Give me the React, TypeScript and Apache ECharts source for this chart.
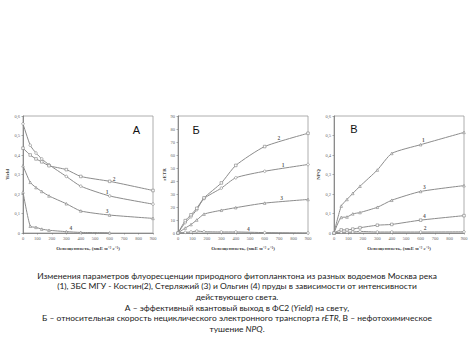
import React, { useEffect, useRef } from "react";
import * as echarts from "echarts";

const lightX = [0, 50, 90, 130, 180, 300, 400, 600, 900];

// Panel А – Yield
const yield1 = [0.56, 0.45, 0.41, 0.38, 0.35, 0.29, 0.24, 0.19, 0.148];
const yield2 = [0.435, 0.4, 0.38, 0.365, 0.345, 0.325, 0.29, 0.265, 0.218];
const yield3 = [0.345, 0.26, 0.233, 0.213, 0.19, 0.15, 0.113, 0.092, 0.075];
const yield4 = [0.21, 0.035, 0.029, 0.02, 0.014, 0.007, 0.003, 0.001];

// Panel Б – rETR
const etr1 = [0, 8, 12.5, 18, 26.5, 34.5, 42.5, 47.5, 52.7];
const etr2 = [0, 9.5, 14, 19, 27, 38.5, 52, 66.5, 76.7];
const etr3 = [0, 3.8, 6.5, 10, 14.5, 17.5, 19.5, 23, 25.8];
const etr4 = [0, 0.5, 0.8, 1.5, 1, 0.8, 0.8, 0.3, 0];

// Panel В – NPQ
const npq1 = [0, 0.138, 0.172, 0.203, 0.24, 0.323, 0.408, 0.453, 0.516];
const npq2 = [0, 0.004, 0.004, 0.005, 0.008, 0.005, 0.005, 0.005, 0.006];
const npq3 = [0, 0.08, 0.082, 0.098, 0.105, 0.132, 0.168, 0.213, 0.243];
const npq4 = [0, 0.016, 0.016, 0.02, 0.027, 0.04, 0.044, 0.066, 0.089];

// Curve number labels (name, x, y)
const curveNames = ["1", "2", "3", "4"];
const labelXA = [582, 630, 582, 332];
const labelYA = [0.21, 0.277, 0.113, 0.026];
const labelXB = [728, 698, 717, 487];
const labelYB = [52.2, 73.3, 27.3, 3.3];
const labelXC = [618, 630, 625, 625];
const labelYC = [0.475, 0.024, 0.234, 0.087];

const yMaxA = 0.6, yStepA = 0.1;
const yMaxB = 90, yStepB = 10;
const yMaxC = 0.6, yStepC = 0.1;
const xMax = 900, xStep = 100;

const panelLetters = ["А", "Б", "В"];
const yNames = ["Yield", "rETR", "NPQ"];
const xName = "Освещенность, (мкЕ м⁻² с⁻¹)";

const captionLines = [
  "Изменения параметров флуоресценции природного фитопланктона из разных водоемов Москва река",
  "(1), ЗБС МГУ - Костин(2), Стерляжий (3) и Ольгин (4) пруды в зависимости от интенсивности",
  "действующего света.",
  "А – эффективный квантовый выход в ФС2 ({i|Yield}) на свету,",
  "Б – относительная скорость нециклического электронного транспорта {i|rETR}, В – нефотохимическое",
  "тушение {i|NPQ}.",
];

const GRAY = "#8c8c8c";
const AXIS = "#777";

export default function App() {
  const ref = useRef<HTMLDivElement>(null);
  useEffect(() => {
    if (!ref.current) return;
    const chart = echarts.init(ref.current, null, { renderer: "svg" });
    const comma = (v: number) => String(Math.round(v * 100) / 100).replace(".", ",");
    const grids = [
      { left: 23, top: 116, width: 130, height: 117 },
      { left: 178, top: 116, width: 130, height: 117 },
      { left: 334, top: 116, width: 130, height: 117 },
    ];
    const yCfg = [
      [yMaxA, yStepA],
      [yMaxB, yStepB],
      [yMaxC, yStepC],
    ];
    const tickFont = { fontSize: 4.5, color: "#666", fontFamily: "Liberation Serif" };
    const xAxis = grids.map((_, i) => ({
      gridIndex: i,
      type: "value",
      min: 0,
      max: xMax,
      interval: xStep,
      name: xName,
      nameLocation: "middle",
      nameGap: 13,
      nameTextStyle: { fontSize: 5, fontWeight: "bold", fontFamily: "Liberation Serif", color: "#444" },
      axisLine: { lineStyle: { color: AXIS, width: 0.8 } },
      axisTick: { show: true, length: 1.5, lineStyle: { color: AXIS, width: 0.6 } },
      axisLabel: { ...tickFont, margin: 3 },
      splitLine: { show: false },
    }));
    const yAxis = grids.map((_, i) => ({
      gridIndex: i,
      type: "value",
      min: 0,
      max: yCfg[i][0],
      interval: yCfg[i][1],
      name: yNames[i],
      nameLocation: "middle",
      nameGap: 11,
      nameRotate: 90,
      nameTextStyle: { fontSize: 5, fontWeight: "bold", fontFamily: "Liberation Serif", color: "#444" },
      axisLine: { show: true, lineStyle: { color: AXIS, width: 0.8 } },
      axisTick: { show: true, length: 1.5, lineStyle: { color: AXIS, width: 0.6 } },
      axisLabel: { ...tickFont, margin: 3, formatter: i === 1 ? (v: number) => String(v) : comma },
      splitLine: { show: false },
    }));
    const pair = (ys: number[]) => ys.map((y, k) => [lightX[k], y]);
    const lineSeries = (ys: number[], gi: number, symbol: string) => ({
      type: "line",
      xAxisIndex: gi,
      yAxisIndex: gi,
      data: pair(ys),
      symbol,
      symbolSize: 2.6,
      showAllSymbol: true,
      smooth: 0.2,
      lineStyle: { color: GRAY, width: 1 },
      itemStyle: { color: "#fff", borderColor: "#808080", borderWidth: 0.6 },
      z: 3,
    });
    const labelSeries = (xs: number[], ys: number[], gi: number) => ({
      type: "scatter",
      xAxisIndex: gi,
      yAxisIndex: gi,
      symbolSize: 0,
      data: xs.map((x, k) => ({ value: [x, ys[k]], name: curveNames[k] })),
      label: {
        show: true,
        position: "inside",
        formatter: (p: any) => p.name,
        fontSize: 5.5,
        fontWeight: "bold",
        fontFamily: "Liberation Serif",
        color: "#333",
      },
      z: 5,
    });
    const letterText = (t: string, x: number, y: number) => ({
      type: "text",
      x,
      y,
      style: {
        text: t,
        fontSize: 11,
        fontFamily: "Liberation Sans",
        fill: "#111",
        textAlign: "center",
        textVerticalAlign: "middle",
      },
      z: 10,
    });
    const captionY = [275.7, 286.4, 297, 307.6, 318.2, 328.8];
    const CAP = 8.45;
    const capFont = { fontSize: CAP, fontFamily: "Lato", fill: "#1a1a1a" };
    const captionGraphics = captionLines.map((line, k) => ({
      type: "text",
      x: 237,
      y: captionY[k],
      style: {
        text: line,
        ...capFont,
        textAlign: "center",
        textVerticalAlign: "middle",
        rich: {
          i: { fontSize: CAP, fontFamily: "Lato", fontStyle: "italic", fill: "#1a1a1a" },
        },
      },
    }));

    chart.setOption({
      animation: false,
      backgroundColor: "#fff",
      grid: grids.map((g) => ({ ...g, show: true, borderColor: "#999", borderWidth: 0.8, backgroundColor: "transparent" })),
      xAxis,
      yAxis,
      series: [
        lineSeries(yield1, 0, "circle"),
        lineSeries(yield2, 0, "rect"),
        lineSeries(yield3, 0, "triangle"),
        lineSeries(yield4, 0, "triangle"),
        lineSeries(etr1, 1, "circle"),
        lineSeries(etr2, 1, "rect"),
        lineSeries(etr3, 1, "triangle"),
        lineSeries(etr4, 1, "circle"),
        lineSeries(npq1, 2, "triangle"),
        lineSeries(npq2, 2, "circle"),
        lineSeries(npq3, 2, "triangle"),
        lineSeries(npq4, 2, "rect"),
        labelSeries(labelXA, labelYA, 0),
        labelSeries(labelXB, labelYB, 1),
        labelSeries(labelXC, labelYC, 2),
      ],
      graphic: [
        letterText(panelLetters[0], 136.5, 130),
        letterText(panelLetters[1], 196, 130),
        letterText(panelLetters[2], 354, 129),
        ...captionGraphics,
      ],
    });
    return () => chart.dispose();
  }, []);
  return (
    <div
      ref={ref}
      style={{ position: "fixed", left: 0, top: 0, width: 474, height: 355, background: "#fff" }}
    />
  );
}
